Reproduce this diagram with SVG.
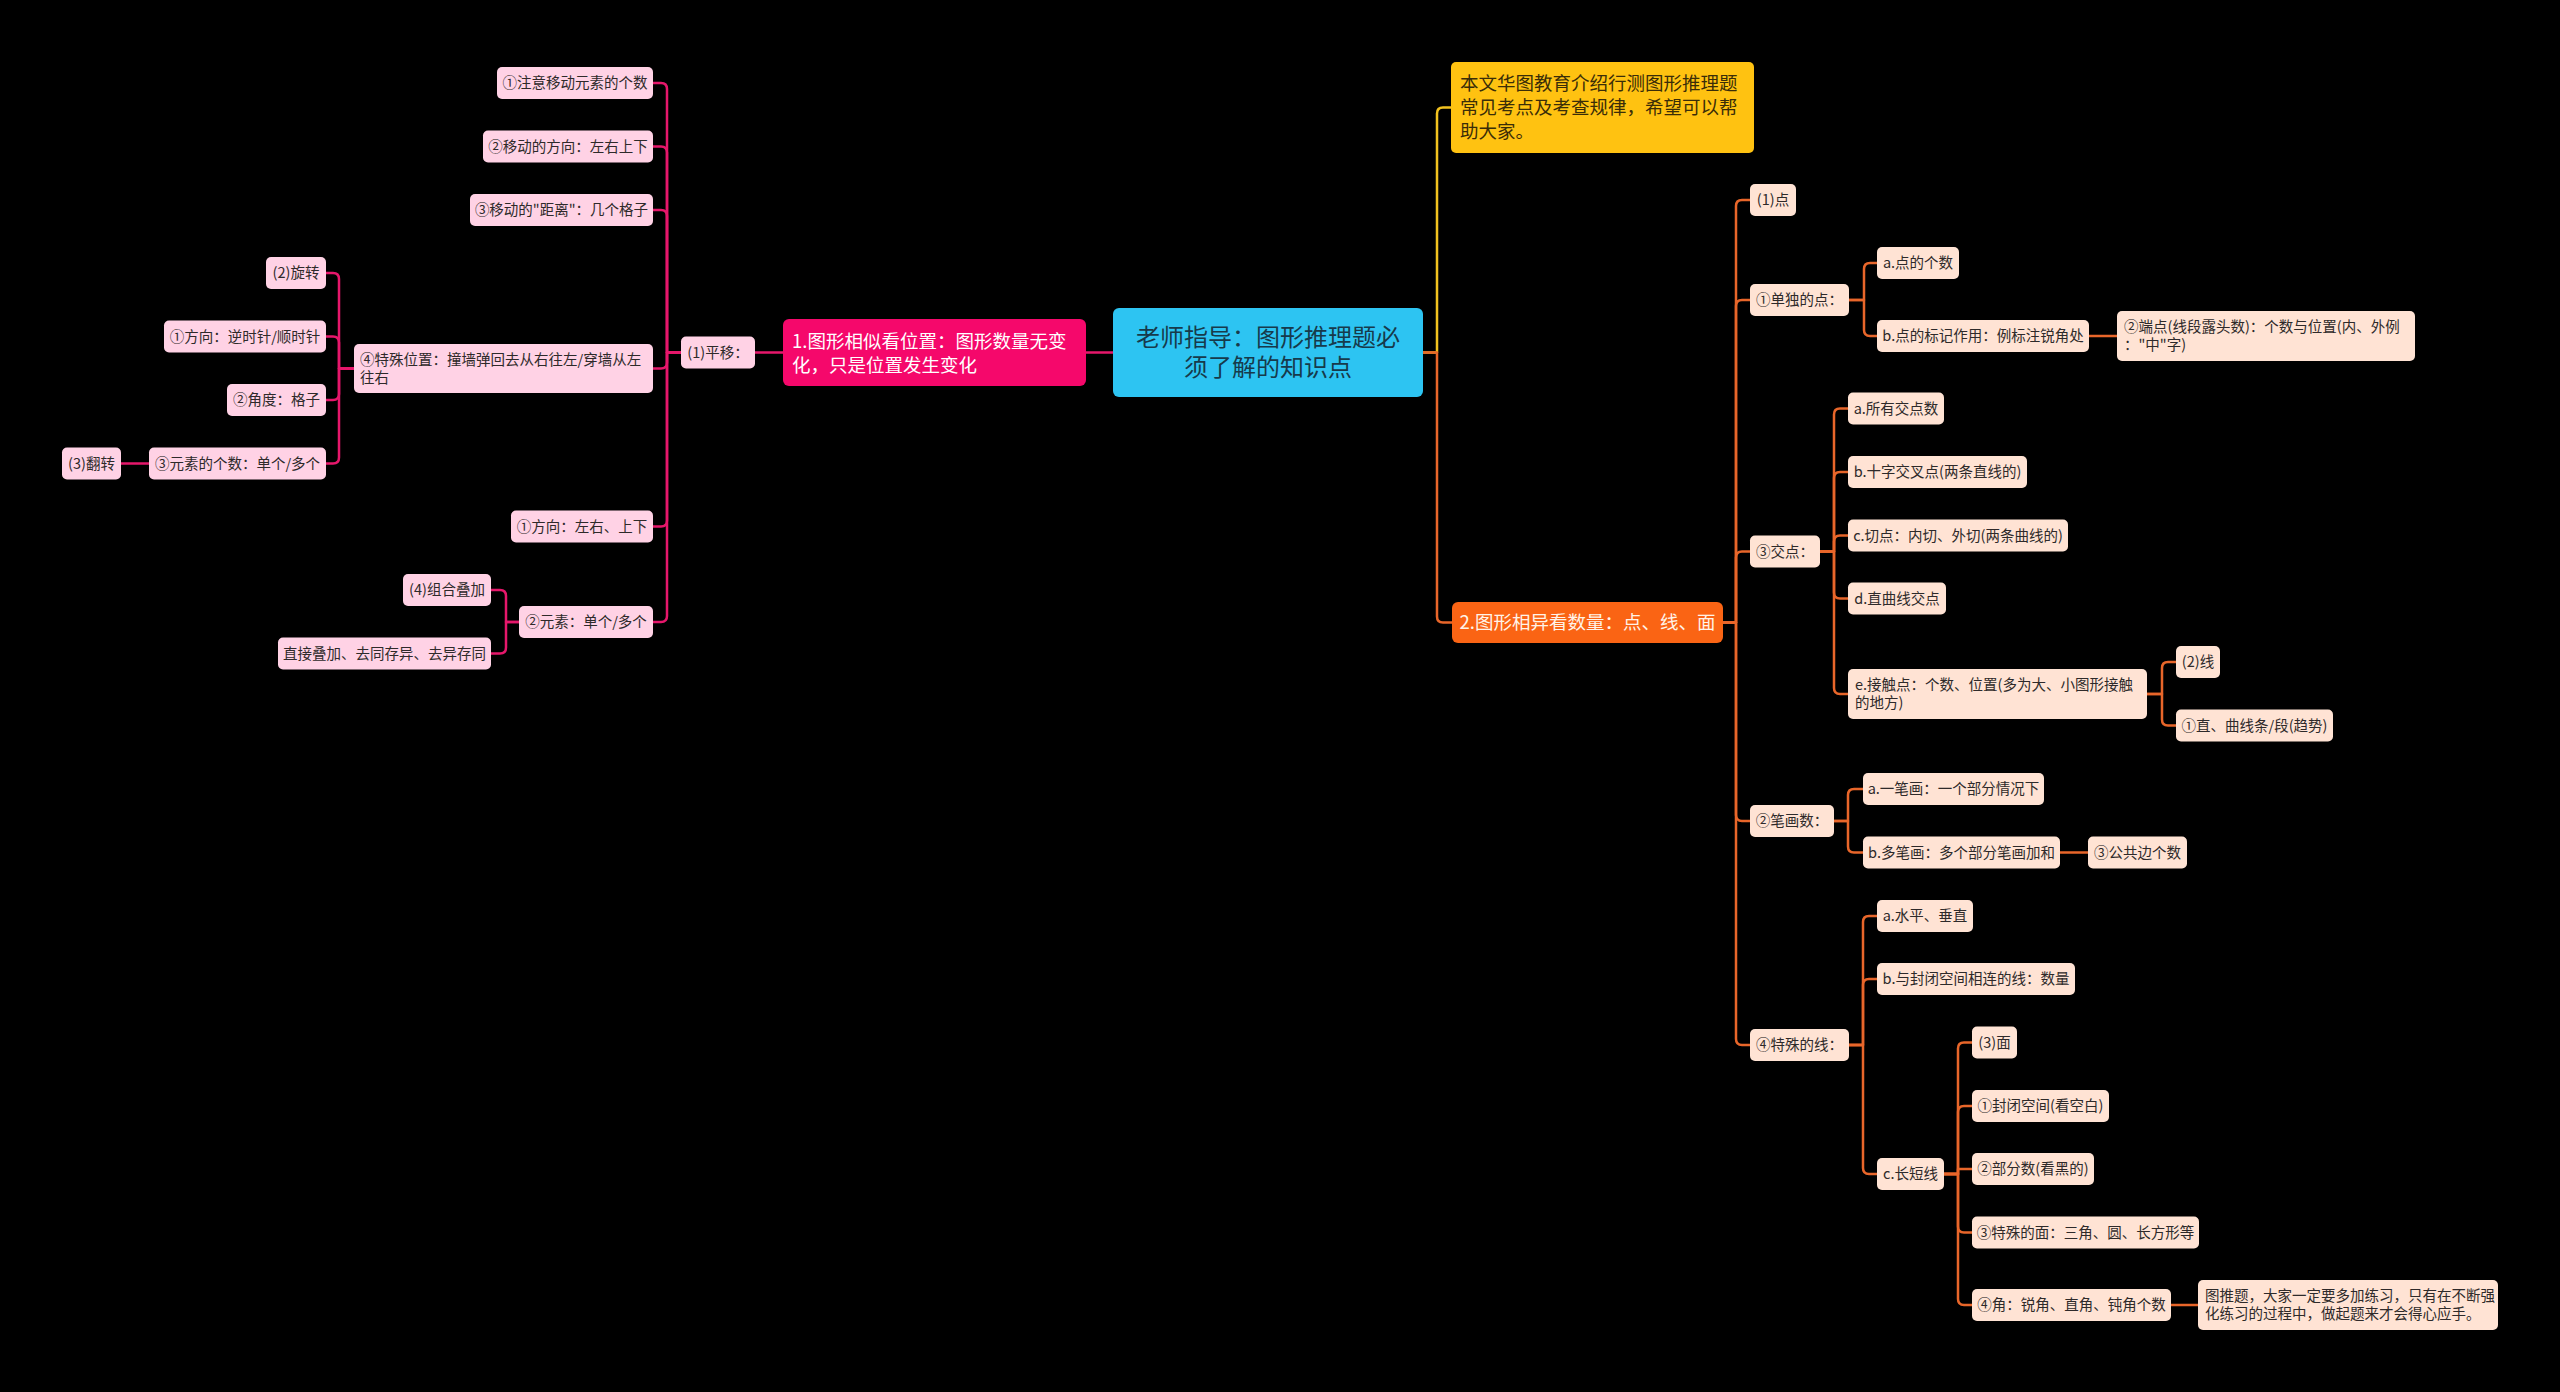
<svg xmlns="http://www.w3.org/2000/svg" width="2560" height="1392" viewBox="0 0 2560 1392">
<style>
text{font-family:"Noto Sans CJK SC","Noto Sans",sans-serif;}
.lp rect{fill:#FFD2E5;}
.lo rect{fill:#FFE3D4;}
.lp text,.lo text{font-size:14.5px;fill:#2e2a2a;}
.c{text-anchor:middle;}
.cp{stroke:#E6176B;}
.co{stroke:#E8662A;}
.cy{stroke:#F2C21F;}
#connectors path{fill:none;stroke-width:2.5;stroke-linejoin:round;}
</style>
<rect x="0" y="0" width="2560" height="1392" fill="#000"/>
<g id="connectors">
<path class="cp" d="M1113,352.5 H1086"/>
<path class="cp" d="M783,352.5 H755"/>
<path class="cp" d="M681,352.5 H667 V89 Q667,83 661,83 H653"/>
<path class="cp" d="M681,352.5 H667 V152.5 Q667,146.5 661,146.5 H653"/>
<path class="cp" d="M681,352.5 H667 V216 Q667,210 661,210 H653"/>
<path class="cp" d="M681,352.5 H667 V362.5 Q667,368.5 661,368.5 H653"/>
<path class="cp" d="M681,352.5 H667 V520.5 Q667,526.5 661,526.5 H653"/>
<path class="cp" d="M681,352.5 H667 V616 Q667,622 661,622 H653"/>
<path class="cp" d="M354,368.5 H339 V279 Q339,273 333,273 H326"/>
<path class="cp" d="M354,368.5 H339 V342.5 Q339,336.5 333,336.5 H326"/>
<path class="cp" d="M354,368.5 H339 V394 Q339,400 333,400 H326"/>
<path class="cp" d="M354,368.5 H339 V457.5 Q339,463.5 333,463.5 H326"/>
<path class="cp" d="M149,463.5 H121"/>
<path class="cp" d="M519,622 H506 V596 Q506,590 500,590 H491"/>
<path class="cp" d="M519,622 H506 V647.5 Q506,653.5 500,653.5 H491"/>
<path class="cy" d="M1423,352.5 H1437 V113.5 Q1437,107.5 1443,107.5 H1451"/>
<path class="co" d="M1423,352.5 H1437 V616.5 Q1437,622.5 1443,622.5 H1452"/>
<path class="co" d="M1723,622.5 H1736 V206 Q1736,200 1742,200 H1750"/>
<path class="co" d="M1723,622.5 H1736 V306 Q1736,300 1742,300 H1750"/>
<path class="co" d="M1723,622.5 H1736 V557.5 Q1736,551.5 1742,551.5 H1750"/>
<path class="co" d="M1723,622.5 H1736 V815 Q1736,821 1742,821 H1750"/>
<path class="co" d="M1723,622.5 H1736 V1039 Q1736,1045 1742,1045 H1750"/>
<path class="co" d="M1849,300 H1864 V269 Q1864,263 1870,263 H1877"/>
<path class="co" d="M1849,300 H1864 V330 Q1864,336 1870,336 H1877"/>
<path class="co" d="M2089,336 H2117"/>
<path class="co" d="M1820,551.5 H1834 V414.5 Q1834,408.5 1840,408.5 H1848"/>
<path class="co" d="M1820,551.5 H1834 V478 Q1834,472 1840,472 H1848"/>
<path class="co" d="M1820,551.5 H1834 V541.5 Q1834,535.5 1840,535.5 H1848"/>
<path class="co" d="M1820,551.5 H1834 V592.5 Q1834,598.5 1840,598.5 H1848"/>
<path class="co" d="M1820,551.5 H1834 V688 Q1834,694 1840,694 H1848"/>
<path class="co" d="M2147,694 H2162 V668 Q2162,662 2168,662 H2176"/>
<path class="co" d="M2147,694 H2162 V719.5 Q2162,725.5 2168,725.5 H2176"/>
<path class="co" d="M1834,821 H1848 V795 Q1848,789 1854,789 H1863"/>
<path class="co" d="M1834,821 H1848 V846.5 Q1848,852.5 1854,852.5 H1863"/>
<path class="co" d="M2060,852.5 H2088"/>
<path class="co" d="M1849,1045 H1863 V922 Q1863,916 1869,916 H1877"/>
<path class="co" d="M1849,1045 H1863 V985 Q1863,979 1869,979 H1877"/>
<path class="co" d="M1849,1045 H1863 V1168 Q1863,1174 1869,1174 H1877"/>
<path class="co" d="M1944,1174 H1958 V1048.5 Q1958,1042.5 1964,1042.5 H1972"/>
<path class="co" d="M1944,1174 H1958 V1112 Q1958,1106 1964,1106 H1972"/>
<path class="co" d="M1944,1174 H1958 V1169 H1972"/>
<path class="co" d="M1944,1174 H1958 V1226.5 Q1958,1232.5 1964,1232.5 H1972"/>
<path class="co" d="M1944,1174 H1958 V1299 Q1958,1305 1964,1305 H1972"/>
<path class="co" d="M2171,1305 H2198"/>
</g>
<g id="root">
<rect x="1113" y="308" width="310" height="89" rx="6" fill="#2DC4F2"/>
<text x="1268" y="346" font-size="24" fill="#173a4b" text-anchor="middle">老师指导：图形推理题必</text>
<text x="1268" y="376" font-size="24" fill="#173a4b" text-anchor="middle">须了解的知识点</text>
</g>
<g id="n1">
<rect x="783" y="319" width="303" height="67" rx="6" fill="#F5086B"/>
<text x="792" y="348" font-size="18.5" fill="#fff">1.图形相似看位置：图形数量无变</text>
<text x="792" y="371.5" font-size="18.5" fill="#fff">化，只是位置发生变化</text>
</g>
<g id="n2">
<rect x="1452" y="602" width="271" height="41" rx="6" fill="#FA6414"/>
<text x="1587.5" y="629" font-size="18.5" fill="#FFF3E8" text-anchor="middle">2.图形相异看数量：点、线、面</text>
</g>
<g id="intro">
<rect x="1451" y="62" width="303" height="91" rx="5" fill="#FFC211"/>
<text x="1460" y="89.5" font-size="18.5" fill="#3a2d08">本文华图教育介绍行测图形推理题</text>
<text x="1460" y="113.5" font-size="18.5" fill="#3a2d08">常见考点及考查规律，希望可以帮</text>
<text x="1460" y="138" font-size="18.5" fill="#3a2d08">助大家。</text>
</g>
<g id="l0" class="lp"><rect x="681" y="336.5" width="74" height="32" rx="5"/><text class="c" x="718" y="357.5">(1)平移：</text></g>
<g id="l1" class="lp"><rect x="497" y="67" width="156" height="32" rx="5"/><text class="c" x="575" y="88">①注意移动元素的个数</text></g>
<g id="l2" class="lp"><rect x="483" y="130.5" width="170" height="32" rx="5"/><text class="c" x="568" y="151.5">②移动的方向：左右上下</text></g>
<g id="l3" class="lp"><rect x="470" y="194" width="183" height="32" rx="5"/><text class="c" x="561.5" y="215">③移动的"距离"：几个格子</text></g>
<g id="l4" class="lp"><rect x="354" y="344" width="299" height="49" rx="5"/><text x="360" y="365" font-size="14">④特殊位置：撞墙弹回去从右往左/穿墙从左</text><text x="360" y="383" font-size="14">往右</text></g>
<g id="l5" class="lp"><rect x="266" y="257" width="60" height="32" rx="5"/><text class="c" x="296" y="278">(2)旋转</text></g>
<g id="l6" class="lp"><rect x="164" y="320.5" width="162" height="32" rx="5"/><text class="c" x="245" y="341.5">①方向：逆时针/顺时针</text></g>
<g id="l7" class="lp"><rect x="227" y="384" width="99" height="32" rx="5"/><text class="c" x="276.5" y="405">②角度：格子</text></g>
<g id="l8" class="lp"><rect x="149" y="447.5" width="177" height="32" rx="5"/><text class="c" x="237.5" y="468.5">③元素的个数：单个/多个</text></g>
<g id="l9" class="lp"><rect x="62" y="447.5" width="59" height="32" rx="5"/><text class="c" x="91.5" y="468.5">(3)翻转</text></g>
<g id="l10" class="lp"><rect x="511" y="510.5" width="142" height="32" rx="5"/><text class="c" x="582" y="531.5">①方向：左右、上下</text></g>
<g id="l11" class="lp"><rect x="519" y="606" width="134" height="32" rx="5"/><text class="c" x="586" y="627">②元素：单个/多个</text></g>
<g id="l12" class="lp"><rect x="403" y="574" width="88" height="32" rx="5"/><text class="c" x="447" y="595">(4)组合叠加</text></g>
<g id="l13" class="lp"><rect x="278" y="637.5" width="213" height="32" rx="5"/><text class="c" x="384.5" y="658.5">直接叠加、去同存异、去异存同</text></g>
<g id="r1" class="lo"><rect x="1750" y="184" width="46" height="32" rx="5"/><text class="c" x="1773" y="205">(1)点</text></g>
<g id="r2" class="lo"><rect x="1750" y="284" width="99" height="32" rx="5"/><text class="c" x="1799.5" y="305">①单独的点：</text></g>
<g id="r3" class="lo"><rect x="1877" y="247" width="82" height="32" rx="5"/><text class="c" x="1918" y="268">a.点的个数</text></g>
<g id="r4" class="lo"><rect x="1877" y="320" width="212" height="32" rx="5"/><text class="c" x="1983" y="341">b.点的标记作用：例标注锐角处</text></g>
<g id="r5" class="lo"><rect x="2117" y="311" width="298" height="50" rx="5"/><text x="2124" y="332">②端点(线段露头数)：个数与位置(内、外例</text><text x="2124" y="350">："中"字)</text></g>
<g id="r6" class="lo"><rect x="1750" y="535.5" width="70" height="32" rx="5"/><text class="c" x="1785" y="556.5">③交点：</text></g>
<g id="r7" class="lo"><rect x="1848" y="392.5" width="96" height="32" rx="5"/><text class="c" x="1896" y="413.5">a.所有交点数</text></g>
<g id="r8" class="lo"><rect x="1848" y="456" width="179" height="32" rx="5"/><text class="c" x="1937.5" y="477">b.十字交叉点(两条直线的)</text></g>
<g id="r9" class="lo"><rect x="1848" y="519.5" width="220" height="32" rx="5"/><text class="c" x="1958" y="540.5">c.切点：内切、外切(两条曲线的)</text></g>
<g id="r10" class="lo"><rect x="1848" y="582.5" width="98" height="32" rx="5"/><text class="c" x="1897" y="603.5">d.直曲线交点</text></g>
<g id="r11" class="lo"><rect x="1848" y="669" width="299" height="50" rx="5"/><text x="1855" y="690">e.接触点：个数、位置(多为大、小图形接触</text><text x="1855" y="708">的地方)</text></g>
<g id="r12" class="lo"><rect x="2176" y="646" width="44" height="32" rx="5"/><text class="c" x="2198" y="667">(2)线</text></g>
<g id="r13" class="lo"><rect x="2176" y="709.5" width="157" height="32" rx="5"/><text class="c" x="2254.5" y="730.5">①直、曲线条/段(趋势)</text></g>
<g id="r14" class="lo"><rect x="1750" y="805" width="84" height="32" rx="5"/><text class="c" x="1792" y="826">②笔画数：</text></g>
<g id="r15" class="lo"><rect x="1863" y="773" width="181" height="32" rx="5"/><text class="c" x="1953.5" y="794">a.一笔画：一个部分情况下</text></g>
<g id="r16" class="lo"><rect x="1863" y="836.5" width="197" height="32" rx="5"/><text class="c" x="1961.5" y="857.5">b.多笔画：多个部分笔画加和</text></g>
<g id="r17" class="lo"><rect x="2088" y="836.5" width="99" height="32" rx="5"/><text class="c" x="2137.5" y="857.5">③公共边个数</text></g>
<g id="r18" class="lo"><rect x="1750" y="1029" width="99" height="32" rx="5"/><text class="c" x="1799.5" y="1050">④特殊的线：</text></g>
<g id="r19" class="lo"><rect x="1877" y="900" width="96" height="32" rx="5"/><text class="c" x="1925" y="921">a.水平、垂直</text></g>
<g id="r20" class="lo"><rect x="1877" y="963" width="198" height="32" rx="5"/><text class="c" x="1976" y="984">b.与封闭空间相连的线：数量</text></g>
<g id="r21" class="lo"><rect x="1877" y="1158" width="67" height="32" rx="5"/><text class="c" x="1910.5" y="1179">c.长短线</text></g>
<g id="r22" class="lo"><rect x="1972" y="1026.5" width="45" height="32" rx="5"/><text class="c" x="1994.5" y="1047.5">(3)面</text></g>
<g id="r23" class="lo"><rect x="1972" y="1090" width="137" height="32" rx="5"/><text class="c" x="2040.5" y="1111">①封闭空间(看空白)</text></g>
<g id="r24" class="lo"><rect x="1972" y="1153" width="122" height="32" rx="5"/><text class="c" x="2033" y="1174">②部分数(看黑的)</text></g>
<g id="r25" class="lo"><rect x="1972" y="1216.5" width="227" height="32" rx="5"/><text class="c" x="2085.5" y="1237.5">③特殊的面：三角、圆、长方形等</text></g>
<g id="r26" class="lo"><rect x="1972" y="1289" width="199" height="32" rx="5"/><text class="c" x="2071.5" y="1310">④角：锐角、直角、钝角个数</text></g>
<g id="r27" class="lo"><rect x="2198" y="1280" width="300" height="50" rx="5"/><text x="2205" y="1301">图推题，大家一定要多加练习，只有在不断强</text><text x="2205" y="1319">化练习的过程中，做起题来才会得心应手。</text></g>
</svg>
